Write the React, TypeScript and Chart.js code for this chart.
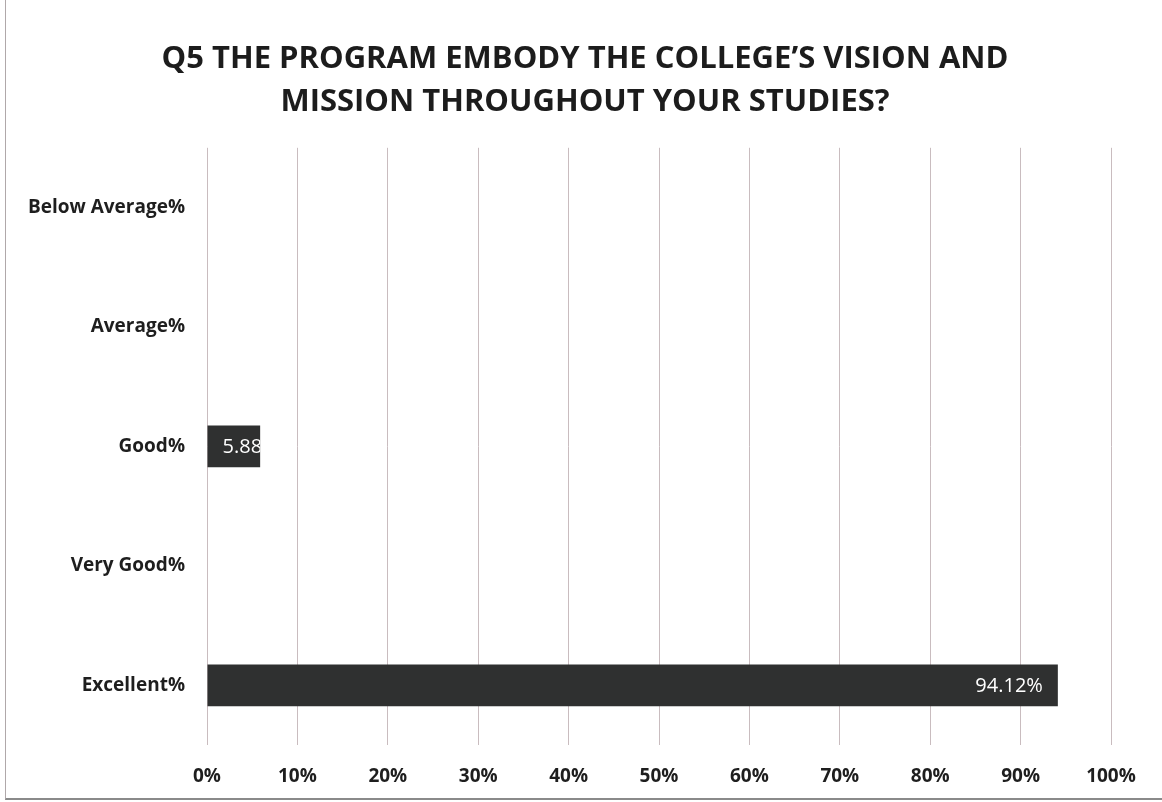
import React, { useEffect, useRef } from "react";
import { Chart, registerables } from "chart.js";

Chart.register(...registerables);

const titleLines = [
  "Q5 THE PROGRAM EMBODY THE COLLEGE\u2019S VISION AND",
  "MISSION THROUGHOUT YOUR STUDIES?",
];
const categories = ["Below Average%", "Average%", "Good%", "Very Good%", "Excellent%"];
const values = [0, 0, 5.88, 0, 94.12];
const valueLabels = ["", "", "5.88%", "", "94.12%"];
const xTicks = [0, 10, 20, 30, 40, 50, 60, 70, 80, 90, 100];

const FONT = "'Open Sans', Lato, sans-serif";

const labelPlugin = {
  id: "barLabels",
  afterDatasetsDraw(chart: any) {
    const ctx = chart.ctx;
    const meta = chart.getDatasetMeta(0);
    ctx.save();
    ctx.font = `20px ${FONT}`;
    ctx.fillStyle = "#ffffff";
    ctx.textBaseline = "middle";
    ctx.textAlign = "left";
    meta.data.forEach((bar: any, i: number) => {
      const txt = valueLabels[i];
      if (!txt || !values[i]) return;
      const left = Math.min(bar.x, bar.base);
      const right = Math.max(bar.x, bar.base);
      const top = bar.y - bar.height / 2;
      const w = ctx.measureText(txt).width;
      const x = Math.max(left + 15, right - 15 - w);
      ctx.save();
      ctx.beginPath();
      ctx.rect(left, top, right - left, bar.height);
      ctx.clip();
      ctx.fillText(txt, x, bar.y + 1);
      ctx.restore();
    });
    ctx.restore();
  },
};

export default function App() {
  const ref = useRef<HTMLCanvasElement | null>(null);
  useEffect(() => {
    if (!ref.current) return;
    const chart = new Chart(ref.current, {
      type: "bar",
      data: {
        labels: categories,
        datasets: [
          {
            data: values,
            backgroundColor: "#2f3030",
            borderWidth: 0,
            barPercentage: 0.7,
            categoryPercentage: 0.5,
          },
        ],
      },
      options: {
        indexAxis: "y",
        animation: false,
        responsive: false,
        maintainAspectRatio: false,
        layout: { padding: { left: 8, right: 0, top: 0, bottom: 0 } },
        plugins: {
          legend: { display: false },
          tooltip: { enabled: false },
          title: {
            display: true,
            text: titleLines,
            color: "#1c1c1c",
            font: { family: FONT, size: 31, weight: "bold", lineHeight: 1.4 },
            padding: { top: 37, bottom: 24 },
          },
        },
        scales: {
          x: {
            type: "linear",
            min: 0,
            max: 100,
            afterBuildTicks: (s: any) => {
              s.ticks = xTicks.map((v) => ({ value: v }));
            },
            afterFit: (s: any) => {
              s.height = 57;
            },
            grid: { color: "#c9bcbf", lineWidth: 1, drawTicks: false },
            border: { display: false },
            ticks: {
              color: "#1e1e1e",
              padding: 20,
              font: { family: FONT, size: 19, weight: "bold" },
              callback: (v: any) => `${v}%`,
            },
          },
          y: {
            type: "category",
            afterFit: (s: any) => {
              s.width = 199;
            },
            grid: { display: false, drawTicks: false },
            border: { display: false },
            ticks: {
              color: "#1e1e1e",
              padding: 22,
              font: { family: FONT, size: 19, weight: "bold" },
            },
          },
          y2: {
            type: "category",
            position: "right",
            labels: categories,
            afterFit: (s: any) => {
              s.width = 51;
            },
            grid: { display: false, drawTicks: false },
            border: { display: false },
            ticks: { display: false },
          },
        },
      } as any,
      plugins: [labelPlugin],
    });
    return () => chart.destroy();
  }, []);

  return (
    <div
      style={{
        position: "fixed",
        left: 0,
        top: 0,
        width: 1162,
        height: 802,
        background: "#ffffff",
      }}
    >
      <div
        style={{
          position: "absolute",
          left: 5,
          top: 0,
          width: 1157,
          height: 800,
          borderLeft: "1px solid #b0a8aa",
          borderBottom: "2px solid #8a8a8a",
          boxSizing: "border-box",
        }}
      />
      <canvas ref={ref} width={1162} height={802} style={{ position: "absolute", left: 0, top: 0 }} />
    </div>
  );
}
